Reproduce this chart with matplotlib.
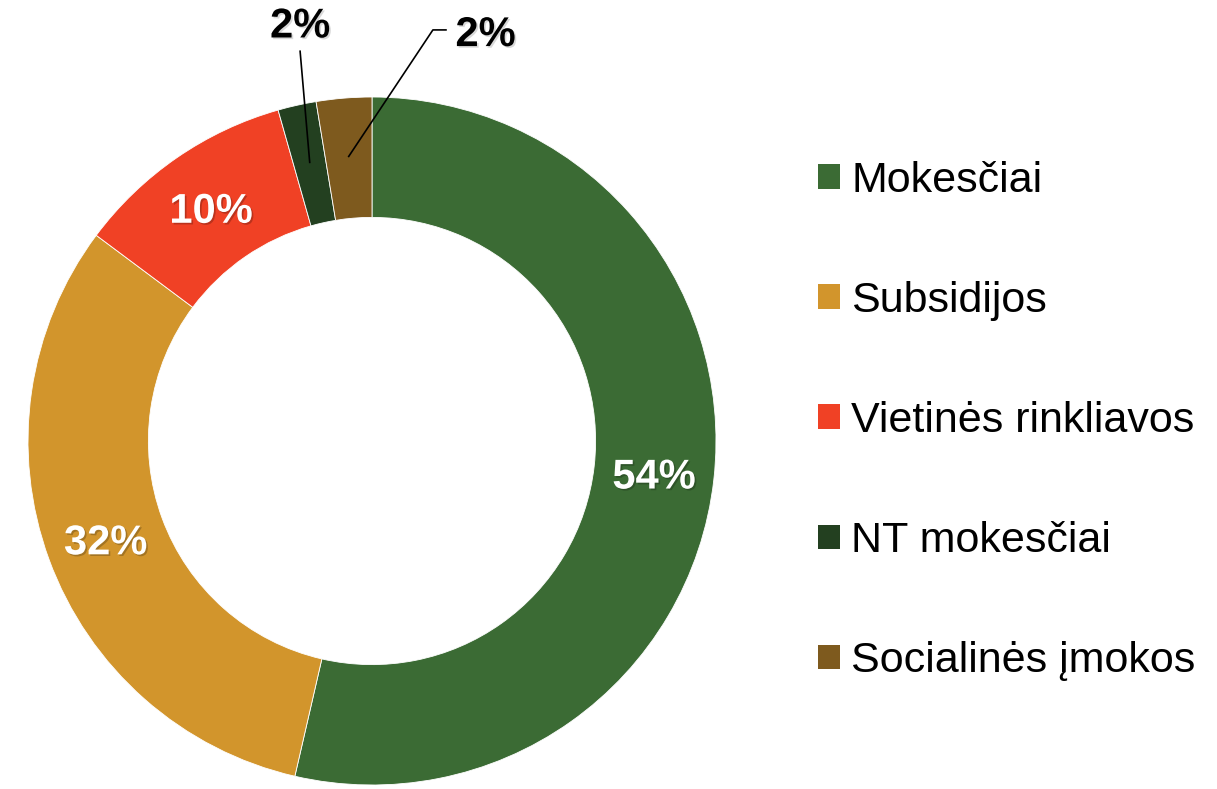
import matplotlib
matplotlib.use("Agg")
import matplotlib.pyplot as plt
import matplotlib.patheffects as pe
from matplotlib.patches import Patch
import numpy as np

categories = ["Mokesčiai", "Subsidijos", "Vietinės rinkliavos", "NT mokesčiai", "Socialinės įmokos"]
values = [53.6, 31.6, 10.4, 1.8, 2.6]
label_texts = ["54%", "32%", "10%", "2%", "2%"]
colors = ["#3B6B34", "#D2952C", "#F04125", "#234020", "#7E5A1E"]

plt.rcParams['font.family'] = ['Liberation Sans', 'DejaVu Sans']

W, H = 1217, 789
fig = plt.figure(figsize=(W / 100, H / 100), dpi=100)
cx, cy, R = 372, 441, 344
ax = fig.add_axes([(cx - R) / W, (H - cy - R) / H, 2 * R / W, 2 * R / H])

ring = 0.35
wedges, _ = ax.pie(values, colors=colors, startangle=90, counterclock=False,
                   radius=1.0, wedgeprops=dict(width=ring, edgecolor='white', linewidth=0.6))
ax.set_xlim(-1, 1)
ax.set_ylim(-1, 1)
ax.set_aspect('equal')
ax.axis('off')
for w in wedges:
    w.set_clip_on(False)

shadow = [pe.SimplePatchShadow(offset=(1.2, -1.2), shadow_rgbFace='black', alpha=0.22), pe.Normal()]
rmid = 1 - ring / 2

def mid_angle(w):
    return np.deg2rad((w.theta1 + w.theta2) / 2)

# inner labels
for i in range(3):
    a = mid_angle(wedges[i])
    ax.text(rmid * np.cos(a), rmid * np.sin(a), label_texts[i], ha='center', va='center_baseline',
            fontsize=30, fontweight='bold', color='white', path_effects=shadow)

# external labels with leader lines
ext_text_pos = {3: (-0.209, 1.205), 4: (0.33, 1.18)}
ext_line_end = {3: [(-0.209, 1.133)], 4: [(0.177, 1.195), (0.215, 1.195)]}
for i in (3, 4):
    a = mid_angle(wedges[i])
    sx, sy = 0.83 * np.cos(a), 0.83 * np.sin(a)
    pts = [(sx, sy)] + ext_line_end[i]
    xs, ys = zip(*pts)
    ax.plot(xs, ys, color='black', lw=1.2, clip_on=False)
    ax.text(*ext_text_pos[i], label_texts[i], ha='center', va='center',
            fontsize=30, fontweight='bold', color='black', clip_on=False,
            path_effects=[pe.SimplePatchShadow(offset=(1.2, -1.2), shadow_rgbFace='black', alpha=0.15), pe.Normal()])

handles = [Patch(facecolor=c, edgecolor='none') for c in colors]
fig.legend(handles, categories, loc='upper left', bbox_to_anchor=(818 / W, 1 - 161 / H),
           frameon=False, fontsize=31, handlelength=0.51, handleheight=0.51,
           handletextpad=0.26, labelspacing=1.86, borderpad=0, borderaxespad=0)

fig.savefig("out.png", dpi=100)
